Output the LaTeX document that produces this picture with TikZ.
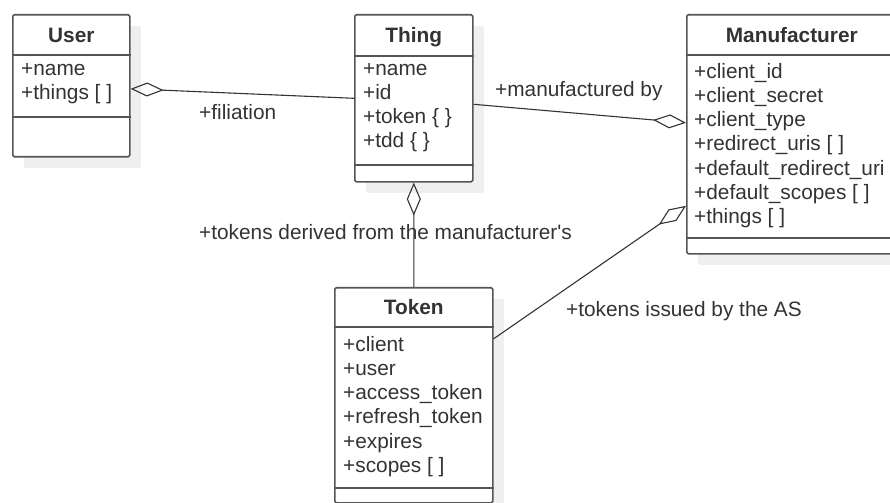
\documentclass[tikz,border=0pt]{standalone}
\usepackage{fontspec}
\setmainfont{Liberation Sans}
\newfontfamily\umlfamily{Liberation Sans}
\usetikzlibrary{arrows.meta,shadows}

\definecolor{umlline}{HTML}{555555}
\definecolor{umlconn}{HTML}{333333}
\definecolor{umltext}{HTML}{333333}
\definecolor{umlshadow}{HTML}{EFEFEF}
\newcommand{\umlfont}{\umlfamily\fontsize{20.9}{24.3}\selectfont}

\tikzset{
  classbox/.style={draw=umlline, fill=white, line width=1.6bp, rounded corners=1.5bp,
    inner sep=0pt, anchor=north west,
    drop shadow={shadow xshift=11bp, shadow yshift=-11bp, fill=umlshadow, opacity=1}},
  sepline/.style={draw=umlline, line width=1.6bp},
  classtitle/.style={font=\umlfont\bfseries, text=umltext, anchor=base, inner sep=0pt},
  classattrs/.style={font=\umlfont, text=umltext, anchor=north west, inner sep=0pt,
    align=left, execute at begin node=\strut},
  rolelabel/.style={font=\umlfont, text=umltext, anchor=base west, inner sep=0pt},
  assoc/.style={draw=umlconn, line width=1.1bp},
  aggrstart/.style={assoc, {Diamond[open, length=33bp, width=14bp]}-},
  aggrend/.style={assoc, -{Diamond[open, length=33bp, width=14bp]}}
}

\begin{document}
\begin{tikzpicture}[x=1bp,y=-1bp]
  \useasboundingbox (0,0) rectangle (890,503);
%%
  % Class: User
  \node[classbox, minimum width=117bp, minimum height=142bp] (user) at (12,14) {};
  \draw[sepline] (user.west |- 0,55) -- (user.east |- 0,55);
  \draw[sepline] (user.west |- 0,117) -- (user.east |- 0,117);
  \node[classtitle] (user-title) at (user.north |- 0,43) {User};
  \node[classattrs] (user-attrs) at (21,63) {+name\\+things [ ]};
  % Class: Thing
  \node[classbox, minimum width=118bp, minimum height=167bp] (thing) at (354,14) {};
  \draw[sepline] (thing.west |- 0,56) -- (thing.east |- 0,56);
  \draw[sepline] (thing.west |- 0,165) -- (thing.east |- 0,165);
  \node[classtitle] (thing-title) at (thing.north |- 0,43) {Thing};
  \node[classattrs] (thing-attrs) at (363,63) {+name\\+id\\+token \{ \}\\+tdd \{ \}};
  % Class: Manufacturer
  \node[classbox, minimum width=210bp, minimum height=239bp] (manu) at (686,14) {};
  \draw[sepline] (manu.west |- 0,55) -- (manu.east |- 0,55);
  \draw[sepline] (manu.west |- 0,238) -- (manu.east |- 0,238);
  \node[classtitle] (manu-title) at (manu.north |- 0,43) {Manufacturer};
  \node[classattrs] (manu-attrs) at (694,63) {+client\_id\\+client\_secret\\+client\_type\\+redirect\_uris [ ]\\+default\_redirect\_uri\\+default\_scopes [ ]\\+things [ ]};
  % Class: Token
  \node[classbox, minimum width=158bp, minimum height=215bp] (token) at (334,287) {};
  \draw[sepline] (token.west |- 0,327) -- (token.east |- 0,327);
  \draw[sepline] (token.west |- 0,488) -- (token.east |- 0,488);
  \node[classtitle] (token-title) at (token.north |- 0,315) {Token};
  \node[classattrs] (token-attrs) at (343,336) {+client\\+user\\+access\_token\\+refresh\_token\\+expires\\+scopes [ ]};
%%
  % Edge: User <>-- Thing
  \draw[aggrstart] ([yshift=-3bp]user.east) -- (thing.west);
  \node[rolelabel] (filiation) at (199,120) {+filiation};
  % Edge: Thing --<> Manufacturer
  \draw[aggrend] ([yshift=-6bp]thing.east) -- ([yshift=11.5bp]manu.west);
  \node[rolelabel] (manufactured) at (495,96.5) {+manufactured by};
  % Edge: Thing <>-- Token
  \draw[aggrstart] (thing.south) -- (token.north);
  \node[rolelabel] (derived) at (199,240) {+tokens derived from the manufacturer's};
  % Edge: Token --<> Manufacturer
  \draw[aggrend] ([yshift=56.5bp]token.east) -- ([yshift=-71.5bp]manu.west);
  \node[rolelabel] (issued) at (566,317) {+tokens issued by the AS};
%
\end{tikzpicture}
\end{document}
